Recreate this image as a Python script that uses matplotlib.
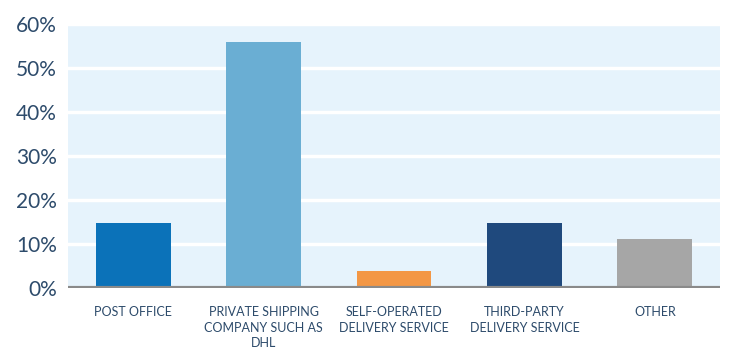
import matplotlib
matplotlib.use("Agg")
import matplotlib.pyplot as plt
from matplotlib.ticker import FuncFormatter

categories = ["POST OFFICE", "PRIVATE SHIPPING\nCOMPANY SUCH AS\nDHL",
              "SELF-OPERATED\nDELIVERY SERVICE", "THIRD-PARTY\nDELIVERY SERVICE", "OTHER"]
values = [14.8, 55.9, 3.9, 14.8, 11.1]
colors = ["#0b72b9", "#6aaed3", "#f39745", "#1f497d", "#a6a6a6"]
yticks = [0, 10, 20, 30, 40, 50, 60]

plt.rcParams['font.family'] = ['Lato', 'DejaVu Sans']
txt = "#2d4b6b"

fig = plt.figure(figsize=(7.38, 3.49), dpi=100)
ax = fig.add_axes([68/738, (349-288)/349, (720-68)/738, (288-24)/349])
ax.set_facecolor("#e6f3fc")
x = list(range(len(categories)))
ax.bar(x, values, width=0.575, color=colors, zorder=3)
ax.set_xlim(-0.5, 4.5)
ax.set_ylim(0, 60)
ax.set_yticks(yticks)
ax.yaxis.set_major_formatter(FuncFormatter(lambda v, p: f"{int(v)}%"))
ax.grid(axis='y', color='white', linewidth=2.5, zorder=1)
ax.axhline(0, color="#8a8a8a", linewidth=3, zorder=4)
for s in ax.spines.values():
    s.set_visible(False)
ax.tick_params(axis='y', length=0, labelsize=15, labelcolor=txt, pad=8)
ax.tick_params(axis='x', length=0, labelsize=9, labelcolor=txt, pad=13)
ax.set_xticks(x)
ax.set_xticklabels(categories, linespacing=1.35)
fig.savefig("out.png", dpi=100)
